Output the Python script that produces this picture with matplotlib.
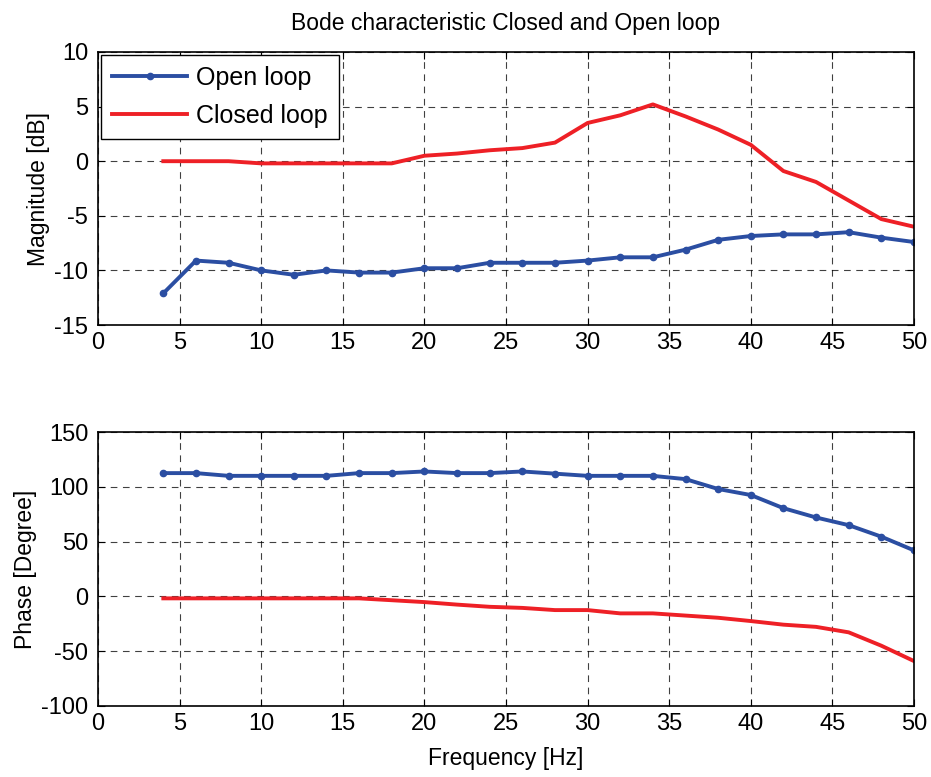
import matplotlib
matplotlib.use('Agg')
import matplotlib.pyplot as plt

plt.rcParams['font.family'] = ['Liberation Sans', 'DejaVu Sans']
plt.rcParams['axes.unicode_minus'] = False

# frequency points [Hz]
freq = [4, 6, 8, 10, 12, 14, 16, 18, 20, 22, 24, 26, 28, 30, 32, 34, 36, 38, 40, 42, 44, 46, 48, 50]

# magnitude [dB]
mag_open = [-12.1, -9.1, -9.3, -10.0, -10.4, -10.0, -10.2, -10.2, -9.8, -9.8, -9.3, -9.3,
            -9.3, -9.1, -8.8, -8.8, -8.1, -7.2, -6.85, -6.7, -6.7, -6.5, -7.0, -7.4]
mag_closed = [0.0, 0.0, 0.0, -0.2, -0.2, -0.2, -0.2, -0.2, 0.5, 0.7, 1.0, 1.2,
              1.7, 3.5, 4.2, 5.2, 4.1, 2.9, 1.5, -0.9, -1.9, -3.6, -5.3, -6.0]

# phase [Degree]
ph_open = [112.5, 112.5, 110, 110, 110, 110, 112.5, 112.5, 114, 112.5, 112.5, 114,
           112, 110, 110, 110, 107, 98, 92.5, 80.5, 72, 65, 54.5, 42]
ph_closed = [-1.8, -1.8, -1.8, -1.8, -1.8, -1.8, -1.8, -3.5, -5.2, -7.5, -9.5, -10.5,
             -12.5, -12.5, -15.5, -15.5, -17.5, -19.5, -22.5, -25.8, -27.8, -32.8, -45, -59]

blue = '#2b4ea2'
red = '#ee2026'

fig = plt.figure(figsize=(9.31, 7.77), dpi=100)
ax1 = fig.add_axes([0.1053, 0.5817, 0.8764, 0.3514])
ax2 = fig.add_axes([0.1053, 0.0914, 0.8764, 0.3526])

for ax in (ax1, ax2):
    for spine in ax.spines.values():
        spine.set_linewidth(1.2)
    ax.grid(True, color='black', linestyle=(0, (6, 5)), linewidth=0.8, alpha=0.75)
    ax.tick_params(direction='in', top=True, right=True, labelsize=17, length=5)
    ax.tick_params(axis='y', pad=7)
    ax.tick_params(axis='x', pad=5)
    ax.set_xlim(0, 50)
    ax.set_xticks(range(0, 51, 5))

# 幅值
ax1.plot(freq, mag_open, color=blue, linewidth=2.8, marker='.', markersize=9, label='Open loop')
ax1.plot(freq, mag_closed, color=red, linewidth=2.8, label='Closed loop')
ax1.set_ylim(-15, 10)
ax1.set_yticks(range(-15, 11, 5))
ax1.set_ylabel('Magnitude [dB]', fontsize=16.5, labelpad=3)
ax1.set_title('Bode characteristic Closed and Open loop', fontsize=16.5, pad=16)
leg = ax1.legend(loc='upper left', fontsize=18, fancybox=False, framealpha=1,
                 edgecolor='black', borderaxespad=0.12, handlelength=3.0,
                 handletextpad=0.35, borderpad=0.45, labelspacing=0.55)
leg.get_frame().set_linewidth(1.0)

# 相位
ax2.plot(freq, ph_open, color=blue, linewidth=2.8, marker='.', markersize=9)
ax2.plot(freq, ph_closed, color=red, linewidth=2.8)
ax2.set_ylim(-100, 150)
ax2.set_yticks(range(-100, 151, 50))
ax2.set_ylabel('Phase [Degree]', fontsize=16.5, labelpad=3)
ax2.set_xlabel('Frequency [Hz]', fontsize=16.5, labelpad=9)

plt.savefig('out.png', dpi=100)
